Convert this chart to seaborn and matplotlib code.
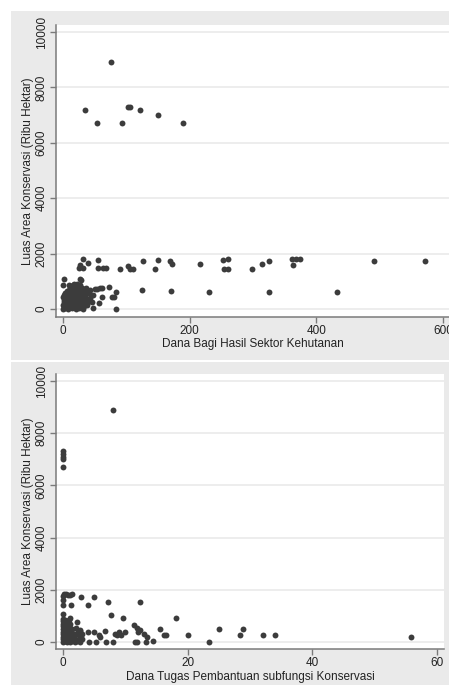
import matplotlib
matplotlib.use("Agg")
import matplotlib.pyplot as plt
from matplotlib.patches import Rectangle
import seaborn as sns

sns.set_style('white')
plt.rcParams['font.family'] = ['Liberation Sans', 'DejaVu Sans']

# Panel 1: Dana Bagi Hasil Sektor Kehutanan vs Luas Area Konservasi
dbh_x = [
    76, 35, 54, 94, 102, 106, 122, 150, 189,
    31, 55, 39, 25, 32, 27, 56, 64, 68, 90, 102, 106, 111, 127, 145, 150,
    169, 172, 217, 253, 261, 254, 261, 299, 314, 325, 362, 368, 374, 363, 491, 571,
    125, 171, 231, 326, 433,
    72, 83, 83, 77, 80, 61, 57, 47, 53, 58, 62, 40, 42,
    0, 1, 0, 2, 1, 0, 2, 0, 1,
    3, 5, 4, 6, 3, 5, 4, 6,
    8, 10, 12, 9, 11, 8, 10, 12, 9, 11, 10,
    14, 16, 18, 15, 17, 14, 16, 18, 15, 17, 16, 18,
    20, 22, 24, 21, 23, 20, 22, 24, 21, 23, 22,
    26, 28, 30, 27, 29, 26, 28, 30, 27, 29, 27,
    32, 34, 36, 33, 35, 32, 34, 36,
    38, 40, 42, 44, 39, 43,
    46, 48, 50,
]
dbh_y = [
    8900, 7175, 6730, 6730, 7295, 7295, 7175, 7020, 6730,
    1815, 1755, 1660, 1465, 1465, 1575, 1465, 1465, 1465, 1440, 1550, 1440, 1440, 1720, 1440, 1755,
    1730, 1620, 1620, 1755, 1815, 1440, 1440, 1440, 1620, 1720, 1815, 1815, 1815, 1600, 1730, 1730,
    673, 650, 625, 625, 625,
    793, 613, 0, 433, 433, 445, 216, 36, 720, 740, 760, 580, 280,
    0, 80, 150, 250, 330, 420, 500, 870, 1080,
    30, 120, 200, 300, 400, 480, 560, 650,
    0, 100, 180, 260, 350, 440, 520, 600, 700, 800, 880,
    20, 90, 160, 240, 330, 420, 510, 600, 690, 780, 870, 920,
    0, 110, 210, 300, 390, 480, 570, 650, 740, 830, 900,
    50, 150, 250, 350, 450, 560, 660, 760, 850, 1060, 1080,
    0, 100, 200, 300, 420, 540, 650, 760,
    150, 280, 400, 520, 640, 700,
    250, 500, 720,
]

# Panel 2: Dana Tugas Pembantuan subfungsi Konservasi vs Luas Area Konservasi
tp_x = [
    7.95, 0, 0, 0, 0, 0,
    0.2, 0.5, 0.8, 1.1, 1.4, 2.9, 5.0, 4.0, 1.3, 0, 7.2, 12.4,
    7.7, 9.6, 18.1, 0,
    11.4, 11.8, 12.3, 12.0, 15.6, 25.0, 28.9,
    16.2, 16.5, 20.1, 28.4, 32.0, 34.0, 55.8,
    23.4, 14.4, 13.3, 13.4, 11.5, 11.9, 13.0,
    8.0, 6.9, 4.2, 5.3, 5.8, 5.9, 4.0, 4.9, 6.8, 8.6, 9.0, 9.3, 9.9, 8.4,
    2.3, 2.1, 1.8, 2.8, 2.8,
    0, 0, 0, 0, 0, 0, 0, 0, 0, 0, 0, 0,
    0.3, 0.3, 0.3, 0.3, 0.3, 0.3, 0.3, 0.3, 0.3,
    0.6, 0.6, 0.6, 0.6, 0.6, 0.6, 0.6, 0.6,
    0.9, 0.9, 0.9, 0.9, 0.9, 0.9, 0.9,
    1.2, 1.2, 1.2, 1.2, 1.2, 1.2, 1.2,
    1.5, 1.5, 1.5, 1.5,
    1.9, 1.9, 1.9,
    2.3, 2.3, 2.7, 2.7, 2.7, 3.0, 3.0,
]
tp_y = [
    8900, 7300, 7200, 7100, 7000, 6720,
    1830, 1850, 1800, 1820, 1840, 1710, 1735, 1430, 1430, 1430, 1545, 1545,
    1045, 918, 918, 1080,
    638, 536, 446, 370, 497, 497, 497,
    268, 268, 255, 268, 268, 268, 180,
    0, 25, 0, 190, 0, 0, 300,
    0, 0, 0, 0, 250, 200, 370, 370, 420, 270, 370, 270, 370, 300,
    750, 530, 270, 446, 216,
    0, 100, 200, 300, 400, 500, 600, 700, 800, 900, 1600, 1750,
    50, 150, 250, 350, 450, 550, 650, 750, 850,
    0, 120, 230, 340, 460, 570, 680, 790,
    30, 160, 290, 420, 560, 700, 850,
    0, 100, 220, 380, 520, 680, 920,
    50, 200, 350, 500,
    0, 130, 280,
    50, 350, 0, 200, 420, 100, 300,
]

ylabel = "Luas Area Konservasi (Ribu Hektar)"
y_ticks = [0, 2000, 4000, 6000, 8000, 10000]

W, H = 449, 686
fig = plt.figure(figsize=(W / 100, H / 100), dpi=100)
fig.patch.set_facecolor('white')

# stata-like grey graph regions
bg = '#eaeaea'
fig.add_artist(Rectangle((11 / W, (H - 360) / H), 1 - 11 / W, (360 - 11) / H,
                         transform=fig.transFigure, color=bg, zorder=-5, lw=0))
fig.add_artist(Rectangle((11 / W, (H - 685) / H), 1 - 11 / W, (685 - 362) / H,
                         transform=fig.transFigure, color=bg, zorder=-5, lw=0))

ax1 = fig.add_axes([56 / W, (H - 317) / H, 400 / W, (317 - 25) / H])
ax2 = fig.add_axes([56 / W, (H - 649) / H, (444 - 56) / W, (649 - 374) / H])

panels = [
    (ax1, dbh_x, dbh_y, "Dana Bagi Hasil Sektor Kehutanan", [0, 200, 400, 600], (-11, 620.6), (-289, 10253)),
    (ax2, tp_x, tp_y, "Dana Tugas Pembantuan subfungsi Konservasi", [0, 20, 40, 60], (-1.12, 61.1), (-268, 10268)),
]

for ax, x, y, xlabel, xt, xlim, ylim in panels:
    ax.set_facecolor('white')
    sns.scatterplot(x=x, y=y, ax=ax, color='#3c3c3c', s=18, linewidth=0, zorder=3)
    ax.set_xlim(*xlim)
    ax.set_ylim(*ylim)
    ax.set_xticks(xt)
    ax.set_yticks(y_ticks)
    ax.set_xticklabels([str(v) for v in xt])
    ax.set_yticklabels([str(v) for v in y_ticks], rotation=90, va='center')
    ax.yaxis.grid(True, color='#ececec', lw=1.3)
    ax.xaxis.grid(False)
    ax.set_axisbelow(True)
    for side in ['top', 'right']:
        ax.spines[side].set_visible(False)
    for side in ['left', 'bottom']:
        ax.spines[side].set_color('#7a7a7a')
        ax.spines[side].set_linewidth(1.1)
    ax.tick_params(axis='both', direction='out', length=4, width=1, color='#7a7a7a',
                   labelsize=8.5, labelcolor='#222222', pad=2, left=True, bottom=True)
    ax.set_xlabel(xlabel, fontsize=8.5, color='#222222', labelpad=1)
    ax.set_ylabel(ylabel, fontsize=8.5, color='#222222', labelpad=1)

ax1.xaxis.set_label_coords((253 - 56) / 400, -0.072)

fig.savefig('out.png', dpi=100)
